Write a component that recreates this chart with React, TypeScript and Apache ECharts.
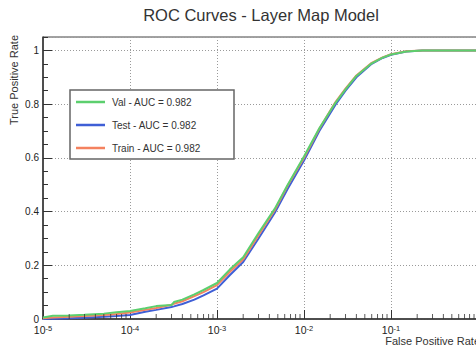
import React, { useEffect, useRef } from 'react';
import * as echarts from 'echarts';

const FONT = '"Liberation Sans", Arial, Helvetica, sans-serif';

const chartTitle = 'ROC Curves - Layer Map Model';
const xAxisTitle = 'False Positive Rate';
const yAxisTitle = 'True Positive Rate';

const seriesNames = ['Val - AUC = 0.982', 'Test - AUC = 0.982', 'Train - AUC = 0.982'];
const seriesColors = ['#5ccf6e', '#3f5fd6', '#f4825f'];

const fpr = [1e-5, 1.3e-5, 2e-5, 3e-5, 5e-5, 7e-5, 1e-4, 1.5e-4, 2e-4, 3e-4, 3.2e-4, 4e-4, 5.5e-4, 7e-4, 1e-3, 1.4e-3, 2e-3, 3e-3, 4.6e-3, 6.5e-3, 1e-2, 1.5e-2, 2.3e-2, 3e-2, 4e-2, 6e-2, 8e-2, 0.1, 0.15, 0.23, 0.4, 1.0];
const tprVal = [0.006, 0.012, 0.013, 0.016, 0.02, 0.025, 0.03, 0.04, 0.048, 0.052, 0.063, 0.072, 0.092, 0.108, 0.134, 0.184, 0.23, 0.32, 0.41, 0.5, 0.605, 0.71, 0.805, 0.855, 0.905, 0.952, 0.973, 0.985, 0.996, 1.0, 1.0, 1.0];
const tprTest = [0.0, 0.001, 0.003, 0.005, 0.008, 0.011, 0.015, 0.027, 0.034, 0.045, 0.047, 0.056, 0.072, 0.088, 0.113, 0.163, 0.212, 0.3, 0.395, 0.485, 0.59, 0.7, 0.798, 0.85, 0.9, 0.95, 0.972, 0.984, 0.996, 1.0, 1.0, 1.0];
const tprTrain = [0.003, 0.006, 0.008, 0.011, 0.015, 0.019, 0.024, 0.034, 0.041, 0.053, 0.057, 0.066, 0.085, 0.1, 0.126, 0.175, 0.222, 0.312, 0.405, 0.497, 0.6, 0.708, 0.808, 0.858, 0.907, 0.954, 0.974, 0.986, 0.997, 1.0, 1.0, 1.0];

const xMin = 1e-5;
const xMax = 1;
const yMin = 0;
const yMax = 1.05;
const yMajorStep = 0.2;
const yMinorStep = 0.05;
const minorMultipliers = [2, 3, 4, 5, 6, 7, 8, 9];
const decadeExponents = [-5, -4, -3, -2, -1];

export default function App() {
  const ref = useRef<HTMLDivElement>(null);

  useEffect(() => {
    if (!ref.current) return;
    const chart = echarts.init(ref.current, undefined, { renderer: 'svg' });

    const pairs = (ys: number[]) => fpr.map((x, i) => [x, ys[i]]);
    const minorTicks: number[][] = [];
    decadeExponents.forEach((e) => {
      minorMultipliers.forEach((m) => minorTicks.push([m * Math.pow(10, e), 0]));
    });

    const lineSeries = (name: string, color: string, ys: number[], z: number) => ({
      type: 'line',
      name,
      data: pairs(ys),
      symbol: 'none',
      showSymbol: false,
      color,
      lineStyle: { color, width: 2 },
      z,
    });

    // legend drawn as graphic elements
    const legendLeft = 70;
    const legendTop = 90;
    const legendW = 164;
    const legendH = 69;
    const rowYs = [102, 125, 148];
    const legendOrder = [0, 1, 2];
    const legendGraphics: any[] = [
      {
        type: 'rect',
        z: 100,
        shape: { x: legendLeft, y: legendTop, width: legendW, height: legendH },
        style: { fill: '#ffffff', stroke: '#666', lineWidth: 1.5 },
      },
    ];
    legendOrder.forEach((si, i) => {
      legendGraphics.push({
        type: 'line',
        z: 101,
        shape: { x1: 76, y1: rowYs[i], x2: 105, y2: rowYs[i] },
        style: { stroke: seriesColors[si], lineWidth: 2.5 },
      });
      legendGraphics.push({
        type: 'text',
        z: 101,
        x: 112,
        y: rowYs[i],
        style: {
          text: seriesNames[si],
          fontSize: 10,
          fontFamily: FONT,
          fill: '#333',
          textAlign: 'left',
          textVerticalAlign: 'middle',
        },
      });
    });

    chart.setOption({
      animation: false,
      backgroundColor: '#ffffff',
      textStyle: { fontFamily: FONT },
      grid: {
        left: 43,
        right: 2,
        top: 37,
        bottom: 28,
        show: true,
        borderColor: '#444',
        borderWidth: 1,
        backgroundColor: '#ffffff',
      },
      xAxis: {
        type: 'log',
        logBase: 10,
        min: xMin,
        max: xMax,
        axisLine: { show: true, lineStyle: { color: '#333', width: 1.5 } },
        axisTick: { show: true, inside: true, length: 9, lineStyle: { color: '#333', width: 1 } },
        splitLine: { show: true, lineStyle: { color: '#9a9a9a', width: 1, type: [1, 2] } },
        axisLabel: {
          margin: 5,
          showMaxLabel: false,
          formatter: (v: number) => (Math.abs(v - xMax) < 1e-12 ? '' : `{b|10}{s|${Math.round(Math.log10(v))}}`),
          rich: {
            b: { fontSize: 10.5, lineHeight: 12, color: '#222', fontFamily: FONT },
            s: { fontSize: 7.5, lineHeight: 7, verticalAlign: 'top', color: '#222', fontFamily: FONT },
          },
        },
      },
      yAxis: [
        {
          type: 'value',
          min: yMin,
          max: yMax,
          interval: yMajorStep,
          position: 'left',
          axisLine: { show: true, lineStyle: { color: '#333', width: 1.5 } },
          axisTick: { show: true, inside: true, length: 9, lineStyle: { color: '#333', width: 1 } },
          splitLine: { show: true, lineStyle: { color: '#9a9a9a', width: 1, type: [1, 2] } },
          axisLabel: {
            margin: 4,
            fontSize: 10,
            color: '#222',
            fontFamily: FONT,
            showMaxLabel: false,
            formatter: (v: number) => (Math.abs(v - yMax) < 1e-9 ? '' : String(v)),
          },
        },
        {
          type: 'value',
          min: yMin,
          max: yMax,
          interval: yMinorStep,
          position: 'left',
          offset: 0,
          axisLine: { show: false },
          axisTick: { show: true, inside: true, length: 5, lineStyle: { color: '#333', width: 1 } },
          splitLine: { show: false },
          axisLabel: { show: false },
        },
      ],
      series: [
        lineSeries(seriesNames[1], seriesColors[1], tprTest, 3),
        lineSeries(seriesNames[2], seriesColors[2], tprTrain, 4),
        lineSeries(seriesNames[0], seriesColors[0], tprVal, 5),
        {
          type: 'scatter',
          name: 'minorTicks',
          data: minorTicks,
          symbol: 'rect',
          symbolSize: [1, 5],
          symbolOffset: [0, -2.5],
          itemStyle: { color: '#333' },
          silent: true,
          clip: false,
          z: 6,
        },
      ],
      graphic: [
        {
          type: 'text',
          z: 100,
          x: 261,
          y: 14.5,
          style: {
            text: chartTitle,
            fontSize: 16.5,
            fontFamily: FONT,
            fill: '#333',
            textAlign: 'center',
            textVerticalAlign: 'middle',
          },
        },
        {
          type: 'text',
          z: 100,
          x: 14,
          y: 35,
          rotation: Math.PI / 2,
          style: {
            text: yAxisTitle,
            fontSize: 11,
            fontFamily: FONT,
            fill: '#333',
            textAlign: 'right',
            textVerticalAlign: 'middle',
          },
        },
        {
          type: 'text',
          z: 100,
          x: 480,
          y: 341,
          style: {
            text: xAxisTitle,
            fontSize: 11,
            fontFamily: FONT,
            fill: '#333',
            textAlign: 'right',
            textVerticalAlign: 'middle',
          },
        },
        ...legendGraphics,
      ],
    });

    return () => chart.dispose();
  }, []);

  return (
    <div style={{ position: 'absolute', left: 0, top: 0, width: 476, height: 347, overflow: 'hidden', background: '#fff' }}>
      <div ref={ref} style={{ width: 480, height: 347 }} />
    </div>
  );
}
